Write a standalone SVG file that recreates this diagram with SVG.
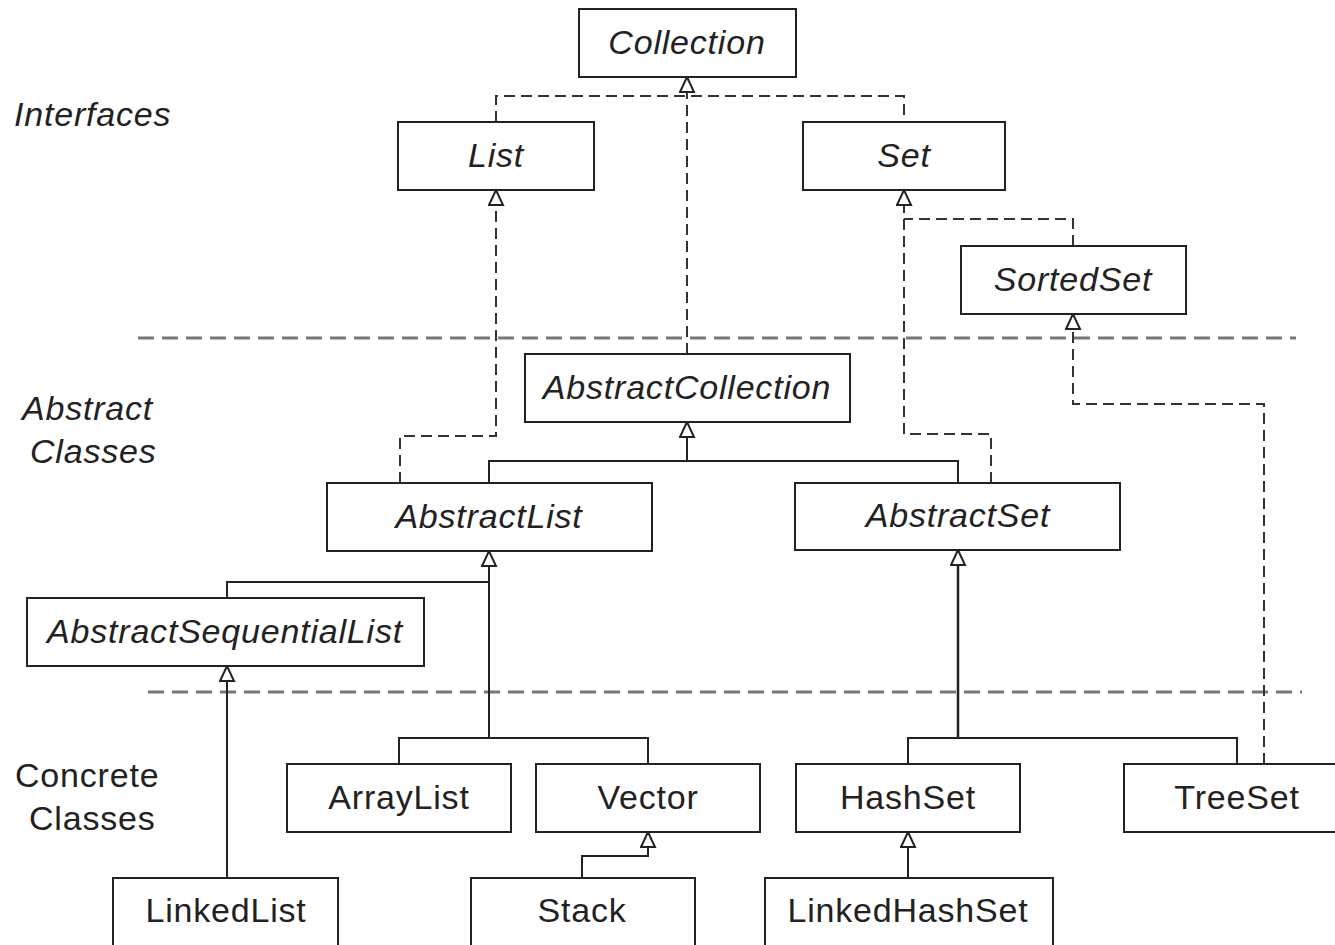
<svg xmlns="http://www.w3.org/2000/svg" width="1335" height="945" viewBox="0 0 1335 945">
<style>
.box{fill:#fff;stroke:#222;stroke-width:2}
.t{font-family:"Liberation Sans",Arial,sans-serif;font-size:34px;letter-spacing:0.8px;fill:#222;text-anchor:middle}
.i{font-style:italic}
.lbl{font-family:"Liberation Sans",Arial,sans-serif;font-size:34px;letter-spacing:0.8px;fill:#222}
.sol{fill:none;stroke:#222;stroke-width:2}
.dash{fill:none;stroke:#333;stroke-width:2;stroke-dasharray:11 6}
.sep{fill:none;stroke:#777;stroke-width:3;stroke-dasharray:16 8}
</style>
<defs>
<marker id="tri" viewBox="-1 -1 17 17" refX="15" refY="7.5" markerWidth="17" markerHeight="17" markerUnits="userSpaceOnUse" orient="auto">
<path d="M0,0.5 L15,7.5 L0,14.5 Z" fill="#fff" stroke="#222" stroke-width="2" stroke-dasharray="none"/>
</marker>
</defs>
<rect width="1335" height="945" fill="#fff"/>
<g id="labels">
<text class="lbl i" x="14" y="126">Interfaces</text>
<text class="lbl i" x="22" y="420">Abstract</text>
<text class="lbl i" x="30" y="463">Classes</text>
<text class="lbl" x="15" y="787">Concrete</text>
<text class="lbl" x="29" y="830">Classes</text>
</g>
<g id="separators">
<line class="sep" x1="138" y1="338" x2="1296" y2="338"/>
<line class="sep" x1="148" y1="692" x2="1302" y2="692"/>
</g>
<g id="connectors">
<path class="dash" d="M496,122 V96 H904 V122"/>
<path class="dash" d="M687,354 V77" marker-end="url(#tri)"/>
<path class="dash" d="M400,483 V436 H496 V190" marker-end="url(#tri)"/>
<path class="dash" d="M991,483 V434 H904 V190" marker-end="url(#tri)"/>
<path class="dash" d="M1073,246 V219 H904"/>
<path class="dash" d="M1264,764 V404 H1073 V314" marker-end="url(#tri)"/>
<path class="sol" d="M489,483 V461 H958 V483"/>
<path class="sol" d="M687,461 V422" marker-end="url(#tri)"/>
<path class="sol" d="M227,598 V582 H489"/>
<path class="sol" d="M489,738 V551" marker-end="url(#tri)"/>
<path class="sol" d="M399,764 V738 H648 V764"/>
<path class="sol" d="M227,878 V666" marker-end="url(#tri)"/>
<path class="sol" d="M582,878 V856 H648 V832" marker-end="url(#tri)"/>
<path class="sol" d="M908,764 V738 H1237 V764"/>
<path class="sol" d="M958,738 V550" marker-end="url(#tri)" style="stroke-width:2.5"/>
<path class="sol" d="M908,878 V832" marker-end="url(#tri)"/>
</g>
<g id="Collection"><rect class="box" x="579" y="9" width="217" height="68"/><text class="t i" x="687" y="54">Collection</text></g>
<g id="List"><rect class="box" x="398" y="122" width="196" height="68"/><text class="t i" x="496" y="167">List</text></g>
<g id="Set"><rect class="box" x="803" y="122" width="202" height="68"/><text class="t i" x="904" y="167">Set</text></g>
<g id="SortedSet"><rect class="box" x="961" y="246" width="225" height="68"/><text class="t i" x="1073" y="291">SortedSet</text></g>
<g id="AbstractCollection"><rect class="box" x="525" y="354" width="325" height="68"/><text class="t i" x="687" y="399">AbstractCollection</text></g>
<g id="AbstractList"><rect class="box" x="327" y="483" width="325" height="68"/><text class="t i" x="489" y="528">AbstractList</text></g>
<g id="AbstractSet"><rect class="box" x="795" y="483" width="325" height="67"/><text class="t i" x="958" y="527">AbstractSet</text></g>
<g id="AbstractSequentialList"><rect class="box" x="27" y="598" width="397" height="68"/><text class="t i" x="225" y="643">AbstractSequentialList</text></g>
<g id="ArrayList"><rect class="box" x="287" y="764" width="224" height="68"/><text class="t" x="399" y="809">ArrayList</text></g>
<g id="Vector"><rect class="box" x="536" y="764" width="224" height="68"/><text class="t" x="648" y="809">Vector</text></g>
<g id="HashSet"><rect class="box" x="796" y="764" width="224" height="68"/><text class="t" x="908" y="809">HashSet</text></g>
<g id="TreeSet"><rect class="box" x="1124" y="764" width="220" height="68"/><text class="t" x="1237" y="809">TreeSet</text></g>
<g id="LinkedList"><rect class="box" x="113" y="878" width="225" height="75"/><text class="t" x="226" y="922">LinkedList</text></g>
<g id="Stack"><rect class="box" x="471" y="878" width="224" height="75"/><text class="t" x="582" y="922">Stack</text></g>
<g id="LinkedHashSet"><rect class="box" x="765" y="878" width="288" height="75"/><text class="t" x="908" y="922">LinkedHashSet</text></g>
</svg>
